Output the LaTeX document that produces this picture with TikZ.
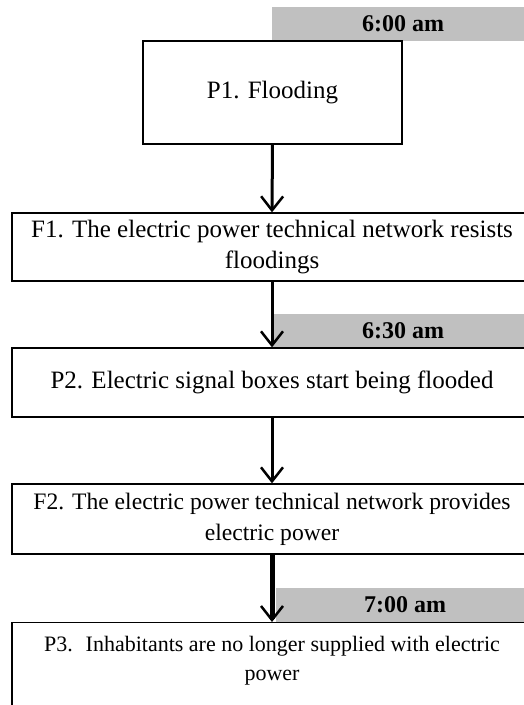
\documentclass[tikz,border=0pt]{standalone}
\usepackage{fontspec}
\setmainfont{Liberation Serif}
\usepackage{xcolor}
\usetikzlibrary{arrows.meta}
\definecolor{bandgray}{RGB}{192,192,192}

\begin{document}
\begin{tikzpicture}[x=1pt,y=-1pt,>={Straight Barb[length=14pt,width=22pt,line width=2.5pt]}]
  \tikzset{
    box/.style={draw,line width=1.3pt,align=center,inner sep=0pt,
      font=\fontsize{25}{31}\selectfont},
    timebar/.style={fill=bandgray,inner sep=0pt,minimum height=34pt,
      font=\fontsize{24}{26}\selectfont\bfseries},
    flow/.style={->,line width=3pt}
  }
  \clip (0,0) rectangle (524,705);

  % time bands
  \node[timebar,minimum width=262pt] (t1) at (403,24) {6:00 am};
  \node[timebar,minimum width=262pt] (t2) at (403,330.5) {6:30 am};
  \node[timebar,minimum width=258pt] (t3) at (405,604.5) {7:00 am};

  % steps
  \node[box,minimum width=259pt,minimum height=103pt] (p1) at (272.5,92.5) {P1. Flooding};
  \node[box,minimum width=520pt,minimum height=68pt] (f1) at (272,247)
    {F1. The electric power technical network resists\\floodings};
  \node[box,minimum width=520pt,minimum height=69pt] (p2) at (272,382.5)
    {P2. Electric signal boxes start being flooded};
  \node[box,minimum width=520pt,minimum height=70pt,font=\fontsize{23.6}{31}\selectfont] (f2) at (272,519)
    {F2. The electric power technical network provides\\electric power};
  \node[box,minimum width=520pt,minimum height=95pt,anchor=north] (p3) at (272,622) {};
  \node[align=center,inner sep=0pt,font=\fontsize{22}{29}\selectfont] (p3txt) at (272,661)
    {P3.~ Inhabitants are no longer supplied with electric\\power};

  % arrows
  \draw[flow] (p1.south) -- (f1.north);
  \draw[flow] (f1.south) -- (p2.north);
  \draw[flow] (p2.south) -- (f2.north);
  \draw[flow,line width=5pt] (f2.south) -- (p3.north);
\end{tikzpicture}
\end{document}
